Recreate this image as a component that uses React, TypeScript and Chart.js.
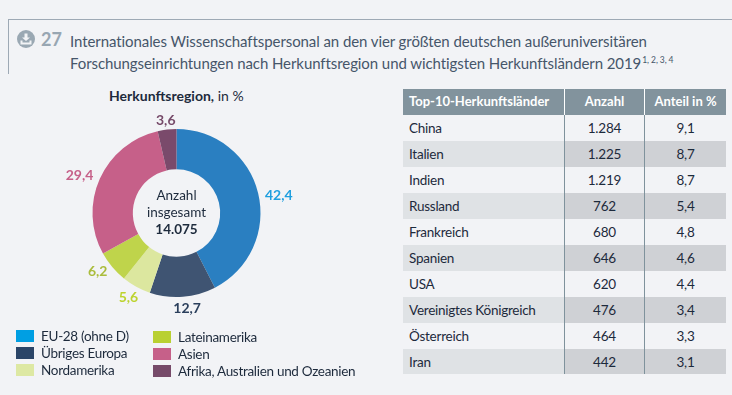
import React, { useEffect, useRef } from "react";
import { Chart, registerables } from "chart.js";

Chart.register(...registerables);

const regions = ["EU-28 (ohne D)", "Übriges Europa", "Nordamerika", "Lateinamerika", "Asien", "Afrika, Australien und Ozeanien"];
const shares = [42.4, 12.7, 5.6, 6.2, 29.4, 3.6];
const shareLabels = ["42,4", "12,7", "5,6", "6,2", "29,4", "3,6"];
const sliceColors = ["#2a7fc1", "#3f5472", "#dce79f", "#bfd44b", "#c66089", "#7a4a6b"];
const legendColors = ["#009fe3", "#2b4568", "#dde8a3", "#b9d032", "#c66089", "#764a69"];
const labelColors = ["#1f9fdf", "#2b3f5c", "#bdd32f", "#aabc3c", "#c66089", "#764a69"];
const countries = ["China", "Italien", "Indien", "Russland", "Frankreich", "Spanien", "USA", "Vereinigtes Königreich", "Österreich", "Iran"];
const counts = ["1.284", "1.225", "1.219", "762", "680", "646", "620", "476", "464", "442"];
const percents = ["9,1", "8,7", "8,7", "5,4", "4,8", "4,6", "4,4", "3,4", "3,3", "3,1"];

const FONT = "Lato, 'Noto Sans', sans-serif";
const BG = "#f2f3f6";
const INK = "#1d2a3c";
const labelNudgeX = [0.5, 3.5, -0.5, -0.5, -2, 0];
const labelNudgeY = [7, 1, -3, -7, 5, 2];

const abs = (left: number, top: number, extra: React.CSSProperties = {}): React.CSSProperties => ({
  position: "absolute", left, top, whiteSpace: "nowrap", ...extra,
});

const donutText = {
  id: "donutText",
  afterDraw(chart: any) {
    const { ctx } = chart;
    const arcs = chart.getDatasetMeta(0).data;
    ctx.save();
    ctx.textAlign = "center";
    ctx.textBaseline = "middle";
    ctx.font = `bold 14px ${FONT}`;
    arcs.forEach((arc: any, i: number) => {
      const mid = (arc.startAngle + arc.endAngle) / 2;
      const s = Math.abs(Math.cos(mid));
      const r = arc.outerRadius + 10 + 11 * s;
      ctx.fillStyle = labelColors[i];
      ctx.fillText(shareLabels[i], arc.x + Math.cos(mid) * r + labelNudgeX[i], arc.y + Math.sin(mid) * r + labelNudgeY[i]);
    });
    const cx = arcs[0].x, cy = arcs[0].y;
    ctx.fillStyle = INK;
    ctx.font = `13.5px ${FONT}`;
    ctx.fillText("Anzahl", cx, cy - 17);
    ctx.fillText("insgesamt", cx, cy);
    ctx.font = `bold 13.5px ${FONT}`;
    ctx.fillText("14.075", cx, cy + 17);
    ctx.restore();
  },
};

export default function App() {
  const ref = useRef<HTMLCanvasElement>(null);
  useEffect(() => {
    document.body.style.margin = "0";
    document.body.style.background = BG;
    const chart = new Chart(ref.current!, {
      type: "doughnut",
      data: {
        labels: regions,
        datasets: [{ data: shares, backgroundColor: sliceColors, borderWidth: 0 }],
      },
      options: {
        animation: false,
        responsive: false,
        cutout: "52%",
        layout: { padding: 46 },
        plugins: { legend: { display: false }, tooltip: { enabled: false } },
      },
      plugins: [donutText],
    });
    return () => chart.destroy();
  }, []);

  const colX = [403, 565, 645];
  const colW = [161, 79, 81];
  const rowH = 25.95;

  return (
    <div style={{ position: "relative", width: 732, height: 395, overflow: "hidden", background: BG, fontFamily: FONT, color: INK }}>
      <div style={{ position: "absolute", left: 8, top: 19, width: 724, height: 1, background: "#9ea9b5" }} />
      <div style={{ position: "absolute", left: 8, top: 19, width: 1, height: 55, background: "#9ea9b5" }} />
      <svg style={{ position: "absolute", left: 17, top: 30 }} width="18" height="18" viewBox="0 0 18 18">
        <circle cx="9" cy="9" r="9" fill="#9aa8b3" />
        <path d="M7.5 3.5h3v4h2.5L9 11 5 7.5h2.5z M3.5 10.5h2v2h7v-2h2v4h-11z" fill={BG} />
      </svg>
      <div style={abs(41, 27, { fontSize: 18, fontWeight: 700, color: "#98a6b2", lineHeight: "24px" })}>27</div>
      <div style={abs(70, 30, { fontSize: 15, letterSpacing: -0.08, color: "#46566a", lineHeight: "22px" })}>
        Internationales Wissenschaftspersonal an den vier größten deutschen außeruniversitären
        <br />
        Forschungseinrichtungen nach Herkunftsregion und wichtigsten Herkunftsländern 2019
        <sup style={{ fontSize: 8.5, lineHeight: 0, marginLeft: 1 }}>1, 2, 3, 4</sup>
      </div>
      <div style={abs(109, 87, { fontSize: 14, lineHeight: "18px" })}>
        <b>Herkunftsregion,</b> in %
      </div>

      <canvas ref={ref} width={301} height={260} style={{ position: "absolute", left: 26, top: 83, width: 301, height: 260 }} />

      {regions.map((r, i) => {
        const col = i < 3 ? 0 : 1;
        const row = i % 3;
        const x = col ? 153 : 16;
        const y = (col ? 331 : 330) + row * 17;
        return (
          <React.Fragment key={r}>
            <div style={{ position: "absolute", left: x, top: y, width: 18, height: 12, background: legendColors[i] }} />
            <div style={abs(x + 25, y - 3, { fontSize: 13.5, letterSpacing: -0.3, lineHeight: "18px" })}>{r}</div>
          </React.Fragment>
        );
      })}

      <div style={{ position: "absolute", left: 403, top: 89, width: 323, height: 26, background: "#82939d" }} />
      {["Top-10-Herkunftsländer", "Anzahl", "Anteil in %"].map((h, i) => (
        <div
          key={h}
          style={abs(i === 0 ? colX[0] + 6 : colX[i], 89, {
            width: i === 0 ? undefined : colW[i],
            textAlign: i === 0 ? "left" : "center",
            color: "#fff",
            fontWeight: 700,
            fontSize: 13,
            lineHeight: "25px",
          })}
        >
          {h}
        </div>
      ))}
      {countries.map((c, i) => {
        const top = 115 + i * rowH;
        return (
          <React.Fragment key={c}>
            {i % 2 === 1 && (
              <>
                <div style={{ position: "absolute", left: 403, top, width: 162, height: rowH, background: "#dfe2e5" }} />
                <div style={{ position: "absolute", left: 565, top, width: 161, height: rowH, background: "#cfd1d5" }} />
              </>
            )}
            <div style={abs(colX[0] + 6, top, { fontSize: 13.5, letterSpacing: -0.25, lineHeight: "26px" })}>{c}</div>
            <div style={abs(colX[1], top, { width: colW[1], textAlign: "center", fontSize: 13.5, letterSpacing: -0.2, lineHeight: "26px" })}>{counts[i]}</div>
            <div style={abs(colX[2], top, { width: colW[2], textAlign: "center", fontSize: 13.5, letterSpacing: -0.2, lineHeight: "26px" })}>{percents[i]}</div>
          </React.Fragment>
        );
      })}
      <div style={{ position: "absolute", left: 564, top: 89, width: 1, height: 26, background: "#fff" }} />
      <div style={{ position: "absolute", left: 644, top: 89, width: 1, height: 26, background: "#fff" }} />
      <div style={{ position: "absolute", left: 564, top: 115, width: 1, height: 259, background: "#7f929c" }} />
      <div style={{ position: "absolute", left: 644, top: 115, width: 1, height: 259, background: "#7f929c" }} />
    </div>
  );
}
